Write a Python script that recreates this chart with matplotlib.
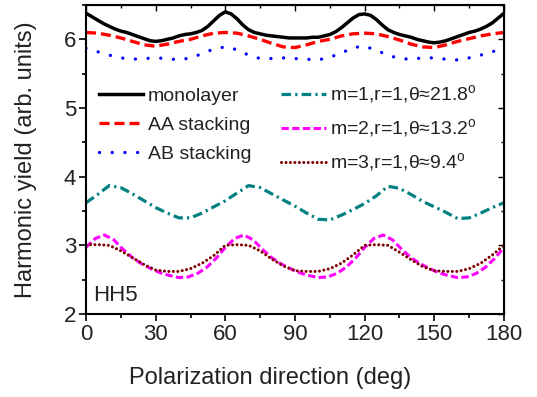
import matplotlib
matplotlib.use("Agg")
import matplotlib.pyplot as plt
from matplotlib.ticker import MultipleLocator

plt.rcParams['font.family'] = ['Liberation Sans', 'DejaVu Sans']
plt.rcParams['mathtext.fontset'] = 'custom'
plt.rcParams['mathtext.rm'] = 'Liberation Sans'

# ---- data ----
angle5 = list(range(0, 181, 5))
angle4 = list(range(0, 181, 4))
angle_fine = [i * 2.5 for i in range(73)]

monolayer = [6.38, 6.33, 6.28, 6.23, 6.19, 6.15, 6.12, 6.10, 6.07, 6.04, 6.01, 5.98,
             5.97, 5.98, 6.00, 6.02, 6.05, 6.07, 6.08, 6.10, 6.13, 6.19, 6.27, 6.35,
             6.40, 6.37, 6.30, 6.21, 6.14, 6.10, 6.08, 6.06, 6.05, 6.04, 6.03, 6.02,
             6.02, 6.02, 6.02, 6.03, 6.03, 6.05, 6.07, 6.11, 6.17, 6.24, 6.31, 6.36,
             6.37, 6.35, 6.29, 6.21, 6.14, 6.10, 6.07, 6.05, 6.03, 6.00, 5.98, 5.96,
             5.95, 5.96, 5.98, 6.01, 6.04, 6.07, 6.10, 6.12, 6.15, 6.19, 6.24, 6.31,
             6.38]
aa_stacking = [6.10, 6.09, 6.06, 6.02, 5.97, 5.92, 5.90, 5.93, 5.97, 6.00, 6.05, 6.09, 6.10,
               6.09, 6.05, 6.00, 5.94, 5.89, 5.88, 5.92, 5.97, 6.00, 6.05, 6.08, 6.09,
               6.08, 6.04, 5.99, 5.93, 5.89, 5.88, 5.92, 5.97, 6.01, 6.05, 6.08, 6.10]
ab_stacking = [5.87, 5.82, 5.77, 5.73, 5.71, 5.72, 5.73, 5.72, 5.70, 5.73, 5.79, 5.86, 5.89,
               5.85, 5.77, 5.72, 5.72, 5.73, 5.72, 5.71, 5.70, 5.74, 5.80, 5.88, 5.90,
               5.84, 5.77, 5.72, 5.71, 5.73, 5.73, 5.71, 5.70, 5.73, 5.77, 5.82, 5.87]
m1 = [3.62, 3.74, 3.87, 3.84, 3.75, 3.65, 3.55, 3.47, 3.40, 3.40, 3.47, 3.56, 3.65,
      3.76, 3.87, 3.84, 3.75, 3.66, 3.57, 3.47, 3.38, 3.37, 3.44, 3.52, 3.61,
      3.72, 3.86, 3.83, 3.74, 3.64, 3.56, 3.48, 3.39, 3.40, 3.47, 3.55, 3.62]
m2 = [2.97, 3.10, 3.15, 3.08, 2.94, 2.82, 2.73, 2.66, 2.60, 2.56, 2.53, 2.54, 2.59, 2.68,
      2.81, 2.97, 3.10, 3.15, 3.08, 2.94, 2.82, 2.73, 2.66, 2.60, 2.56, 2.53, 2.54, 2.59,
      2.68, 2.81, 2.97, 3.10, 3.15, 3.08, 2.94, 2.82, 2.73, 2.66, 2.60, 2.56, 2.53, 2.54,
      2.59, 2.68, 2.81, 2.97]
m3 = [3.01, 3.01, 3.00, 2.92, 2.82, 2.72, 2.64, 2.62, 2.62, 2.66, 2.74, 2.85, 3.00,
      3.01, 3.00, 2.92, 2.80, 2.70, 2.63, 2.62, 2.62, 2.66, 2.74, 2.86, 3.00,
      3.01, 3.00, 2.90, 2.79, 2.69, 2.63, 2.62, 2.62, 2.66, 2.74, 2.86, 3.00]

labels = ['monolayer', 'AA stacking', 'AB stacking',
          r'm=1,r=1,θ≈21.8$^\mathregular{o}$',
          r'm=2,r=1,θ≈13.2$^\mathregular{o}$',
          r'm=3,r=1,θ≈9.4$^\mathregular{o}$']
xticks = [0, 30, 60, 90, 120, 150, 180]

fig = plt.figure(figsize=(5.37, 3.97), dpi=100)
ax = fig.add_axes([86/537, 1 - 314/397, 418/537, 309/397])

l1, = ax.plot(angle_fine, monolayer, color='black', lw=2.5, solid_joinstyle='round')
l2, = ax.plot(angle5, aa_stacking, color='#ff0000', lw=2.4, linestyle=(0, (3, 1.5)))
l3, = ax.plot(angle5, ab_stacking, color='#0000ff', lw=2.4, linestyle=(0, (0.01, 3.8)),
              dash_capstyle='round')
l4, = ax.plot(angle5, m1, color='#008080', lw=2.3, linestyle=(0, (3.0, 1.3, 0.7, 1.3)))
l5, = ax.plot(angle4, m2, color='#ff00ff', lw=2.2, linestyle=(0, (2.4, 1.1)))
l6, = ax.plot(angle5, m3, color='#800000', lw=2.2, linestyle=(0, (0.01, 1.45)),
              dash_capstyle='round')

ax.set_xlim(0, 180)
ax.set_ylim(2, 6.5)
ax.set_xticks(xticks)
ax.xaxis.set_minor_locator(MultipleLocator(15))
ax.yaxis.set_major_locator(MultipleLocator(1))
ax.yaxis.set_minor_locator(MultipleLocator(0.5))

tc = '#222222'
ax.tick_params(axis='both', which='major', direction='out', length=5, width=1.2,
               labelsize=16, labelcolor=tc, pad=2)
ax.tick_params(axis='both', which='minor', direction='out', length=3, width=1.2)
for sp in ax.spines.values():
    sp.set_linewidth(1.5)

# inward mirrored ticks on top/right
secx = ax.secondary_xaxis('top')
secx.set_xticks(xticks)
secx.xaxis.set_minor_locator(MultipleLocator(15))
secx.tick_params(which='major', direction='in', length=4, width=1.0, labeltop=False)
secx.tick_params(which='minor', direction='in', length=2.5, width=1.0)
secx.set_xticklabels([])
secy = ax.secondary_yaxis('right')
secy.yaxis.set_major_locator(MultipleLocator(1))
secy.yaxis.set_minor_locator(MultipleLocator(0.5))
secy.tick_params(which='major', direction='in', length=4, width=1.0, labelright=False)
secy.tick_params(which='minor', direction='in', length=2.5, width=1.0)
secy.set_yticklabels([])

ax.set_xlabel('Polarization direction (deg)', fontsize=17, color=tc)
ax.xaxis.set_label_coords((270 - 86) / 418, -0.172)
ax.set_ylabel('Harmonic yield (arb. units)', fontsize=17, color=tc)
ax.yaxis.set_label_coords(-0.118, 0.5)

ax.text(0.017, 0.042, 'HH5', transform=ax.transAxes, fontsize=16, color=tc,
        ha='left', va='baseline')

leg = ax.legend([l1, l2, l3, l4, l5, l6], labels, ncol=2, frameon=False,
                fontsize=14, loc='upper left', bbox_to_anchor=(0.03, 0.745),
                borderaxespad=0, borderpad=0, handlelength=2.3, handletextpad=0.25,
                columnspacing=1.5, labelspacing=0.58)
for t in leg.get_texts():
    t.set_color(tc)

fig.savefig('out.png', dpi=100)
